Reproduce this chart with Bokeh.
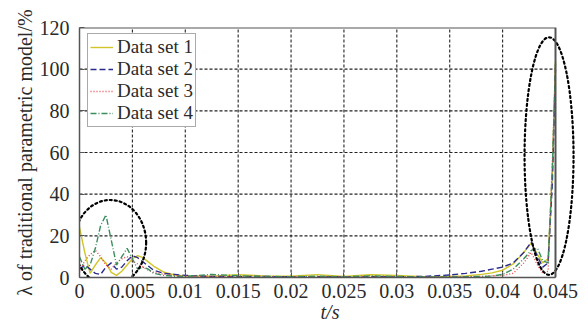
from bokeh.plotting import figure
from bokeh.models import Range1d, FixedTicker, Legend, LegendItem
from bokeh.embed import file_html
from bokeh.resources import INLINE

# ---------------- data ----------------
t = [0, 0.0005, 0.001, 0.0015, 0.002, 0.0025, 0.003, 0.0035, 0.004, 0.0045,
     0.005, 0.0055, 0.006, 0.0065, 0.007, 0.008, 0.009, 0.01, 0.0125, 0.015,
     0.0175, 0.02, 0.0225, 0.025, 0.0275, 0.03, 0.0325, 0.035, 0.0365, 0.038,
     0.039, 0.04, 0.041, 0.042, 0.0427, 0.0433, 0.0438, 0.0443, 0.0447, 0.045]

set1 = [24, 12, 2, 6, 9.5, 7, 2.5, 1, 3, 6,
        9, 10.5, 9.5, 7.5, 5.5, 2.5, 1.2, 0.8, 0.6, 1.3,
        0.8, 0.6, 1.4, 0.5, 1.3, 1.0, 0.4, 0.5, 0.8, 1.5,
        2.2, 3.5, 6.5, 12, 16.5, 11, 7, 9, 50, 104]

set2 = [4, 6, 4, 2, 1.5, 5, 7, 4, 5, 8,
        10.5, 9.5, 7.5, 5.5, 3.5, 2, 1.5, 1, 0.5, 0.4,
        0.5, 0.3, 0.4, 0.3, 0.4, 0.3, 0.5, 1.2, 2, 3,
        4, 5, 7, 12, 17, 10, 5, 7, 45, 100]

set3 = [3, 8, 11, 13, 10, 6, 4, 7, 9, 10,
        8, 6.5, 5, 3.5, 2.5, 1.5, 1, 0.7, 0.5, 0.3,
        0.3, 0.2, 0.3, 0.2, 0.3, 0.2, 0.2, 0.2, 0.3, 0.5,
        0.8, 1.0, 2, 7, 12, 6, 2, 3, 55, 102]

set4 = [10, 4, 6, 14, 25, 30, 18, 6, 10, 14,
        9, 4, 5, 4, 2, 1, 0.6, 0.5, 1.5, 0.8,
        0.5, 0.4, 0.6, 0.3, 0.8, 0.5, 0.3, 0.3, 0.4, 0.5,
        0.7, 1.5, 4, 9, 13, 14, 8, 7, 52, 103]

series_names = ["Data set 1", "Data set 2", "Data set 3", "Data set 4"]

x_ticks = [0, 0.005, 0.01, 0.015, 0.02, 0.025, 0.03, 0.035, 0.04, 0.045]
x_tick_labels = ["0", "0.005", "0.01", "0.015", "0.02", "0.025", "0.03", "0.035", "0.04", "0.045"]
y_ticks = [0, 20, 40, 60, 80, 100, 120]
y_tick_labels = ["0", "20", "40", "60", "80", "100", "120"]

# highlighted regions (dotted ellipses)
ell_x = [0.0029, 0.04439]
ell_y = [16.7, 58.3]
ell_w = [0.0068, 0.00463]
ell_h = [41, 114]

# ---------------- layout ----------------
W, H = 588, 325
FL, FR, FT, FB = 79, 580, 27, 278          # frame edges (px)
AX1 = 555                                  # right edge of the axes box (px)

xpp = (x_ticks[-1] - x_ticks[0]) / (AX1 - FL)
x_end = x_ticks[-1] + (FR - AX1) * xpp

FONT = "Liberation Serif"
TXT = "#2a2a2a"
GRAY = "#555555"

p = figure(width=W, height=H, output_backend="svg", toolbar_location=None,
           x_range=Range1d(x_ticks[0], x_end), y_range=Range1d(y_ticks[0], y_ticks[-1]),
           min_border_left=FL, min_border_right=W - FR,
           min_border_top=FT, min_border_bottom=H - FB)
p.outline_line_color = None
p.background_fill_color = "white"
p.border_fill_color = "white"
p.xgrid.visible = False
p.ygrid.visible = False

# grid lines
vx = x_ticks[1:-1]
p.segment(x0=vx, y0=[y_ticks[0]] * len(vx), x1=vx, y1=[y_ticks[-1]] * len(vx),
          line_color="#222222", line_dash="3 2", line_width=1.1)
hy = y_ticks[1:-1]
p.segment(x0=[x_ticks[0]] * len(hy), y0=hy, x1=[x_ticks[-1]] * len(hy), y1=hy,
          line_color="#222222", line_dash="3 2", line_width=1.1)

# series
styles = [
    dict(line_color="#d0c62a", line_dash="solid"),
    dict(line_color="#2b2b8f", line_dash="6 3"),
    dict(line_color="#e8484f", line_dash="1 2"),
    dict(line_color="#3b8f5e", line_dash="6 2 1 2"),
]
renderers = []
for ys, st in zip([set1, set2, set3, set4], styles):
    r = p.line(t, ys, line_width=1.4, **st)
    renderers.append(r)

# ellipses
p.ellipse(x=ell_x, y=ell_y, width=ell_w, height=ell_h, fill_color=None,
          line_color="black", line_dash="2 3", line_width=2.2, line_cap="round")

# box (top and right)
p.line(x=[x_ticks[0], x_ticks[-1], x_ticks[-1]], y=[y_ticks[-1], y_ticks[-1], y_ticks[0]],
       line_color=GRAY, line_width=2)

# axes
for ax in (p.xaxis[0], p.yaxis[0]):
    ax.major_tick_in = 5
    ax.major_tick_out = 0
    ax.minor_tick_line_color = None
    ax.axis_line_color = GRAY
    ax.axis_line_width = 1.5
    ax.major_tick_line_color = GRAY
    ax.major_label_text_font = FONT
    ax.major_label_text_font_size = "20px"
    ax.major_label_text_color = TXT
    ax.axis_label_text_font = FONT
    ax.axis_label_text_font_size = "20px"
    ax.axis_label_text_color = TXT

p.xaxis.bounds = (x_ticks[0], x_ticks[-1])
p.xaxis.ticker = FixedTicker(ticks=x_ticks)
p.yaxis.ticker = FixedTicker(ticks=y_ticks)
p.xaxis.major_label_overrides = dict(zip(x_ticks, x_tick_labels))
p.yaxis.major_label_overrides = dict(zip(y_ticks, y_tick_labels))
p.xaxis.major_label_standoff = 6
p.yaxis.major_label_standoff = 10

p.yaxis.axis_label = "λ of traditional parametric model/%"
p.yaxis.axis_label_text_font_style = "normal"
p.yaxis.axis_label_standoff = 1

p.xaxis.axis_label = "t/s"
p.xaxis.axis_label_text_font_style = "italic"
p.xaxis.axis_label_standoff = 0

# legend
legend = Legend(items=[LegendItem(label=n, renderers=[r]) for n, r in zip(series_names, renderers)],
                location=(8, FB - 128), orientation="vertical",
                label_text_font=FONT, label_text_font_size="19px", label_text_color=TXT,
                glyph_width=23, glyph_height=20, label_height=20, label_standoff=4,
                spacing=0, padding=2, margin=0,
                border_line_color=GRAY, border_line_width=1.5,
                background_fill_color="white", background_fill_alpha=1)
p.add_layout(legend)

open("out.html", "w").write(file_html(p, INLINE))
